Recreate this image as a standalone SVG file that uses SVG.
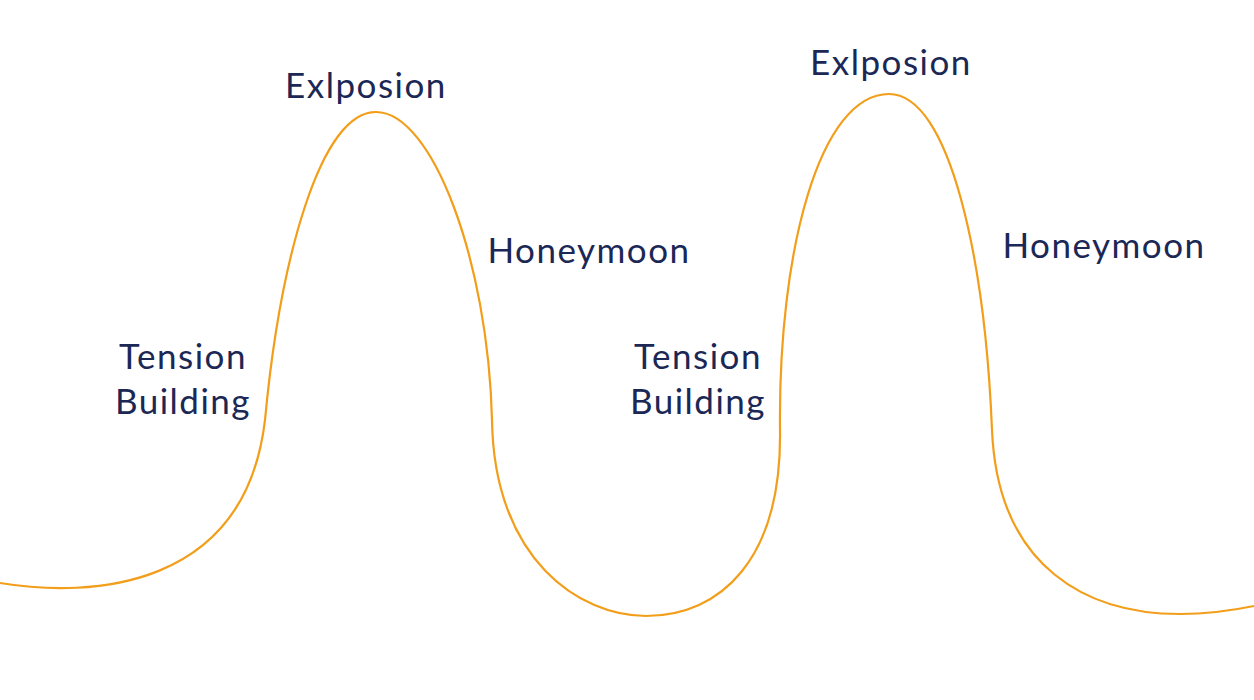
<svg xmlns="http://www.w3.org/2000/svg" width="1254" height="700" viewBox="0 0 1254 700">
<style>
.lbl{font-family:Lato,"Open Sans","Liberation Sans",sans-serif;font-size:35px;fill:#1b2856;text-anchor:middle;letter-spacing:1.5px}
.curve{fill:none;stroke:#F29E1A;stroke-width:2.2}
</style>
<rect width="1254" height="700" fill="#ffffff"/>
<g id="connectors">
<path class="curve" d="M0,583 C90,598 245,590 265,420 C280,260 320,112 376,112 C432,112 488,260 492,420 C494,560 580,616 646,616 C720,616 782,560 780,430 C778,250 820,94 889,94 C950,94 985,260 992,430 C998,570 1090,614 1180,614 C1210,614 1235,610 1254,606"/>
</g>
<g id="explosion1"><text class="lbl" x="366" y="98">Exlposion</text></g>
<g id="honeymoon1"><text class="lbl" x="589" y="263">Honeymoon</text></g>
<g id="tension1"><text class="lbl" x="183" y="369">Tension</text><text class="lbl" x="183" y="414">Building</text></g>
<g id="explosion2"><text class="lbl" x="891" y="75">Exlposion</text></g>
<g id="honeymoon2"><text class="lbl" x="1104" y="258">Honeymoon</text></g>
<g id="tension2"><text class="lbl" x="698" y="369">Tension</text><text class="lbl" x="698" y="414">Building</text></g>
</svg>
